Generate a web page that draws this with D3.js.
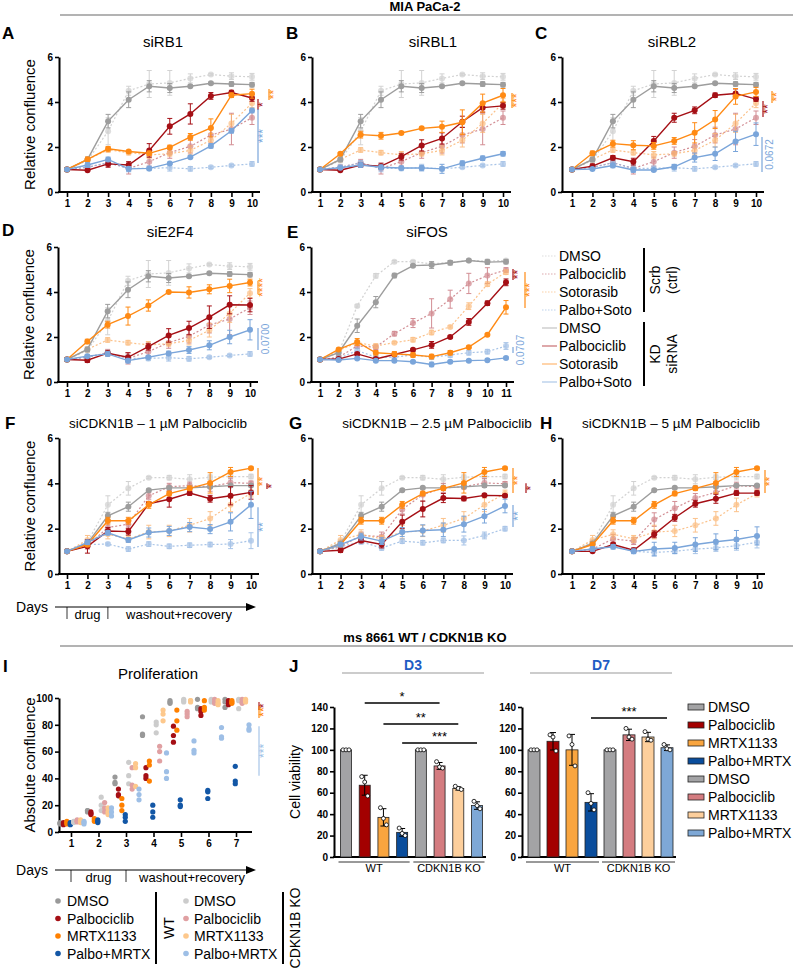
<!DOCTYPE html>
<html>
<head>
<meta charset="utf-8">
<script src="https://cdn.jsdelivr.net/npm/d3@7"></script>
<style>
  body { margin: 0; background: #fff; }
  svg text { font-family: Arial, "Liberation Sans", Helvetica, sans-serif; }
  .tick text { font-weight: bold; font-size: 10px; }
</style>
</head>
<body>
<div id="chart"></div>
<script>
// ---------- data: MIA PaCa-2 relative confluence ----------
const days10 = d3.range(1, 11);
const days11 = d3.range(1, 12);

// shared controls A-D
const scrbDmsoAD = [1.0, 1.4, 2.7, 4.5, 4.8, 4.85, 5.05, 5.22, 5.15, 5.12];
const scrbDmsoADErr = [0.05, 0.1, 0.6, 0.2, 0.6, 0.55, 0.2, 0.05, 0.15, 0.15];
const scrbPalboAD = [1.0, 1.1, 1.3, 1.05, 1.35, 1.75, 2.03, 2.53, 2.8, 3.3];
const scrbPalboADErr = [0.05, 0.1, 0.15, 0.25, 0.2, 0.25, 0.3, 0.35, 0.7, 0.3];
const scrbSotoAD = [1.0, 1.45, 1.87, 1.75, 1.65, 1.7, 1.85, 2.3, 3.05, 3.95];
const scrbSotoADErr = [0.05, 0.1, 0.1, 0.1, 0.15, 0.1, 0.2, 0.3, 0.4, 0.2];
const scrbComboAD = [1.0, 1.1, 1.3, 1.05, 1.05, 1.08, 1.03, 1.1, 1.18, 1.25];
const scrbComboADErr = [0.05, 0.1, 0.1, 0.15, 0.1, 0.15, 0.1, 0.05, 0.05, 0.1];
const kdDmsoAD = [1.0, 1.45, 3.15, 4.1, 4.7, 4.62, 4.7, 4.83, 4.8, 4.77];
const kdDmsoADErr = [0.05, 0.1, 0.3, 0.35, 0.25, 0.2, 0.05, 0.05, 0.1, 0.1];

// A siRB1
const rb1Palbo = [1.0, 0.97, 1.25, 1.2, 1.85, 2.92, 3.47, 4.27, 4.42, 4.18];
const rb1PalboErr = [0.05, 0.05, 0.15, 0.15, 0.3, 0.35, 0.45, 0.15, 0.1, 0.15];
const rb1Soto = [1.0, 1.45, 1.92, 1.8, 1.72, 1.98, 2.45, 2.85, 4.3, 4.37];
const rb1SotoErr = [0.05, 0.1, 0.1, 0.05, 0.1, 0.1, 0.15, 0.4, 0.1, 0.2];
const rb1Combo = [1.0, 1.2, 1.45, 1.03, 1.05, 1.27, 1.55, 2.05, 2.72, 3.62];
const rb1ComboErr = [0.05, 0.1, 0.1, 0.1, 0.05, 0.05, 0.05, 0.1, 0.1, 0.1];
// B siRBL1
const rbl1Palbo = [1.0, 0.97, 1.2, 1.15, 1.57, 2.07, 2.38, 3.12, 3.75, 3.83];
const rbl1PalboErr = [0.05, 0.05, 0.1, 0.1, 0.15, 0.25, 0.25, 0.25, 0.2, 0.15];
const rbl1Soto = [1.0, 1.7, 2.55, 2.5, 2.62, 2.83, 2.9, 3.1, 3.95, 4.3];
const rbl1SotoErr = [0.05, 0.05, 0.15, 0.15, 0.05, 0.05, 0.25, 0.55, 0.4, 0.3];
const rbl1Combo = [1.0, 1.08, 1.2, 1.1, 1.07, 1.07, 1.03, 1.28, 1.5, 1.7];
const rbl1ComboErr = [0.05, 0.05, 0.1, 0.1, 0.05, 0.1, 0.2, 0.1, 0.1, 0.1];
// C siRBL2
const rbl2Palbo = [1.0, 1.15, 1.52, 1.35, 2.27, 3.3, 3.63, 4.3, 4.38, 4.13];
const rbl2PalboErr = [0.05, 0.1, 0.1, 0.15, 0.2, 0.2, 0.15, 0.1, 0.2, 0.1];
const rbl2Soto = [1.0, 1.72, 2.15, 2.08, 2.05, 2.27, 2.63, 3.22, 4.25, 4.45];
const rbl2SotoErr = [0.05, 0.1, 0.15, 0.2, 0.15, 0.15, 0.45, 0.4, 0.35, 0.2];
const rbl2Combo = [1.0, 1.02, 1.18, 0.98, 0.98, 1.12, 1.53, 1.7, 2.25, 2.57];
const rbl2ComboErr = [0.05, 0.05, 0.1, 0.1, 0.05, 0.1, 0.2, 0.3, 0.45, 0.5];
// D siE2F4
const e2f4Palbo = [1.0, 0.97, 1.28, 1.1, 1.57, 2.07, 2.4, 2.88, 3.43, 3.42];
const e2f4PalboErr = [0.05, 0.1, 0.1, 0.2, 0.15, 0.3, 0.3, 0.5, 0.4, 0.3];
const e2f4Soto = [1.0, 1.8, 2.55, 2.93, 3.4, 4.0, 3.98, 4.12, 4.27, 4.42];
const e2f4SotoErr = [0.05, 0.1, 0.15, 0.4, 0.25, 0.05, 0.25, 0.2, 0.3, 0.15];
const e2f4Combo = [1.0, 1.15, 1.25, 0.95, 1.1, 1.27, 1.42, 1.63, 2.0, 2.32];
const e2f4ComboErr = [0.05, 0.05, 0.1, 0.1, 0.05, 0.1, 0.15, 0.2, 0.3, 0.45];
// E siFOS (11 days)
const fosScrbDmso = [1.0, 1.3, 3.38, 4.72, 5.35, 5.35, 5.25, 5.32, 5.4, 5.38, 5.4];
const fosScrbDmsoErr = [0.05, 0.05, 0.05, 0.1, 0.05, 0.05, 0.05, 0.05, 0.05, 0.05, 0.05];
const fosKdDmso = [1.0, 1.3, 2.5, 3.55, 4.73, 5.17, 5.2, 5.3, 5.4, 5.33, 5.35];
const fosKdDmsoErr = [0.05, 0.1, 0.3, 0.25, 0.1, 0.05, 0.15, 0.1, 0.05, 0.1, 0.1];
const fosScrbPalbo = [1.0, 1.1, 1.6, 1.55, 2.15, 2.62, 3.05, 3.68, 4.38, 4.73, 4.98];
const fosScrbPalboErr = [0.05, 0.05, 0.1, 0.1, 0.1, 0.2, 0.65, 0.4, 0.45, 0.35, 0.1];
const fosKdPalbo = [1.0, 1.02, 1.25, 1.02, 1.22, 1.43, 1.65, 2.0, 2.67, 3.5, 4.43];
const fosKdPalboErr = [0.05, 0.05, 0.05, 0.05, 0.05, 0.05, 0.15, 0.05, 0.15, 0.1, 0.15];
const fosScrbSoto = [1.0, 1.4, 1.75, 1.6, 1.75, 1.88, 2.2, 2.45, 3.37, 4.35, 4.88];
const fosScrbSotoErr = [0.05, 0.05, 0.1, 0.1, 0.05, 0.1, 0.1, 0.05, 0.15, 0.1, 0.1];
const fosKdSoto = [1.0, 1.45, 1.78, 1.3, 1.25, 1.2, 1.13, 1.3, 1.55, 2.1, 3.32];
const fosKdSotoErr = [0.05, 0.05, 0.15, 0.1, 0.1, 0.1, 0.1, 0.1, 0.05, 0.05, 0.3];
const fosScrbCombo = [1.0, 1.05, 1.4, 1.1, 1.1, 1.2, 1.1, 1.2, 1.3, 1.35, 1.6];
const fosScrbComboErr = [0.05, 0.05, 0.1, 0.1, 0.05, 0.05, 0.1, 0.1, 0.1, 0.1, 0.15];
const fosKdCombo = [1.0, 0.98, 1.05, 0.95, 0.95, 0.9, 0.78, 0.9, 0.95, 0.97, 1.07];
const fosKdComboErr = [0.05, 0.05, 0.05, 0.05, 0.05, 0.05, 0.1, 0.05, 0.05, 0.05, 0.05];

// shared controls F-H (siCDKN1B)
const scrbDmsoFH = [1.0, 1.4, 3.05, 3.78, 4.25, 4.25, 4.18, 4.27, 4.3, 4.3];
const scrbDmsoFHErr = [0.05, 0.1, 0.4, 0.3, 0.05, 0.1, 0.2, 0.1, 0.15, 0.1];
const kdDmsoFH = [1.0, 1.35, 2.57, 2.97, 3.7, 3.8, 3.8, 3.85, 3.9, 3.9];
const kdDmsoFHErr = [0.05, 0.05, 0.15, 0.2, 0.05, 0.05, 0.05, 0.05, 0.05, 0.05];
const scrbSotoFH = [1.0, 1.5, 1.75, 1.55, 1.85, 1.9, 2.15, 2.45, 3.05, 3.55];
const scrbSotoFHErr = [0.05, 0.2, 0.2, 0.15, 0.3, 0.25, 0.3, 0.3, 0.3, 0.15];
const kdSotoFH = [1.0, 1.3, 2.35, 2.35, 3.05, 3.55, 3.78, 4.02, 4.5, 4.67];
const kdSotoFHErr = [0.05, 0.1, 0.15, 0.15, 0.15, 0.1, 0.1, 0.45, 0.2, 0.05];
// F 1 uM
const p1ScrbPalbo = [1.0, 1.25, 2.05, 2.2, 3.45, 3.85, 3.9, 3.85, 4.03, 4.0];
const p1ScrbPalboErr = [0.05, 0.15, 0.2, 0.2, 0.15, 0.15, 0.15, 0.2, 0.2, 0.1];
const p1KdPalbo = [1.0, 1.22, 1.9, 1.87, 3.1, 3.3, 3.57, 3.32, 3.45, 3.6];
const p1KdPalboErr = [0.05, 0.3, 0.15, 0.15, 0.1, 0.35, 0.1, 0.15, 0.4, 0.3];
const p1ScrbCombo = [1.0, 1.3, 1.32, 1.1, 1.32, 1.22, 1.27, 1.3, 1.32, 1.47];
const p1ScrbComboErr = [0.05, 0.1, 0.05, 0.1, 0.1, 0.1, 0.1, 0.1, 0.2, 0.35];
const p1KdCombo = [1.0, 1.4, 1.82, 1.5, 1.83, 1.9, 2.07, 1.98, 2.3, 3.05];
const p1KdComboErr = [0.05, 0.1, 0.1, 0.1, 0.2, 0.2, 0.2, 0.2, 0.4, 0.6];
// G 2.5 uM
const p25ScrbPalbo = [1.0, 1.2, 1.7, 1.65, 2.85, 3.5, 3.8, 3.85, 4.02, 3.98];
const p25ScrbPalboErr = [0.05, 0.1, 0.15, 0.2, 0.2, 0.3, 0.2, 0.1, 0.2, 0.1];
const p25KdPalbo = [1.0, 1.05, 1.48, 1.3, 2.3, 2.87, 3.35, 3.33, 3.47, 3.45];
const p25KdPalboErr = [0.05, 0.1, 0.1, 0.15, 0.3, 0.35, 0.2, 0.1, 0.05, 0.05];
const p25ScrbCombo = [1.0, 1.2, 1.42, 1.15, 1.45, 1.38, 1.48, 1.48, 1.7, 2.0];
const p25ScrbComboErr = [0.05, 0.1, 0.1, 0.1, 0.1, 0.1, 0.1, 0.2, 0.15, 0.1];
const p25KdCombo = [1.0, 1.3, 1.65, 1.45, 1.85, 1.92, 1.95, 2.2, 2.55, 3.0];
const p25KdComboErr = [0.05, 0.1, 0.15, 0.15, 0.2, 0.25, 0.3, 0.35, 0.3, 0.3];
// H 5 uM
const p5ScrbPalbo = [1.0, 1.1, 1.55, 1.45, 2.4, 2.9, 3.35, 3.6, 3.9, 3.85];
const p5ScrbPalboErr = [0.05, 0.1, 0.2, 0.15, 0.3, 0.3, 0.2, 0.3, 0.15, 0.1];
const p5KdPalbo = [1.0, 1.0, 1.3, 1.05, 1.75, 2.48, 3.1, 3.32, 3.57, 3.57];
const p5KdPalboErr = [0.05, 0.05, 0.1, 0.1, 0.15, 0.15, 0.15, 0.2, 0.1, 0.1];
const p5ScrbCombo = [1.0, 1.1, 1.25, 1.0, 0.95, 1.0, 1.1, 1.15, 1.25, 1.4];
const p5ScrbComboErr = [0.05, 0.1, 0.1, 0.1, 0.15, 0.1, 0.2, 0.15, 0.2, 0.25];
const p5KdCombo = [1.0, 1.1, 1.2, 1.0, 1.1, 1.15, 1.3, 1.42, 1.52, 1.68];
const p5KdComboErr = [0.05, 0.1, 0.1, 0.1, 0.3, 0.25, 0.3, 0.35, 0.4, 0.4];

// ---------- data: ms 8661 proliferation (replicates per day 1-7) ----------
const iDays = d3.range(1, 8);
const iWtDmso   = [[6.5,6,7],[16,15,16],[41,37,36],[86,73,72],[98,97,96],[99,93,92],[99,97,93]];
const iWtPalbo  = [[6,7,5.5],[15,14,13],[32,28,27],[48,42,40],[79,72,67],[92,90,87],[98,96,95]];
const iWtMrtx   = [[7,6,8],[9,8,10],[25,20,16],[53,50,38],[91,83,76],[98,93,91],[98,97,96]];
const iWtCombo  = [[6,5.5,7],[7,8,9],[13,11,8],[20,15,11],[24,20,19],[31,30,25],[49,38,36]];
const iKoDmso   = [[7,8,7.5],[26,20,16],[52,42,36],[82,80,74],[99,98,97],[99,98,97],[99,98,92]];
const iKoPalbo  = [[8,9,7.5],[22,18,15],[48,35,32],[64,60,53],[90,88,86],[99,97,96],[99,97,96]];
const iKoMrtx   = [[8,9,7],[18,15,13],[51,48,34],[91,88,83],[98,97,98],[98,96,95],[99,98,97]];
const iKoCombo  = [[7,8,6],[18,15,12],[32,28,24],[59,45,40],[68,61,59],[78,71,70],[80,77,76]];

// ---------- data: cell viability ----------
const jConds = ['wtDmso','wtPalbo','wtMrtx','wtCombo','koDmso','koPalbo','koMrtx','koCombo'];
const jBarsD3 = [100, 67, 37, 23, 100, 85, 64, 48];
const jRepsD3 = [[100,100,100],[75,70,57],[46,36,30],[27,22,20],[100,100,100],[89,84,83],[66,64,63],[52,48,45]];
const jBarsD7 = [100, 108, 100, 51, 100, 114, 112, 102];
const jRepsD7 = [[100,100,100],[114,112,99],[113,105,85],[60,50,44],[100,100,100],[120,112,110],[117,110,109],[105,101,100]];
const jTicks = [0, 20, 40, 60, 80, 100, 120, 140];

// ---------- colours ----------
const col = {
  kdDmso: '#9d9d9d', kdPalbo: '#a50f15', kdSoto: '#ff8a14', kdCombo: '#7aa5da',
  scDmso: '#c8c8c8', scPalbo: '#c8727a', scSoto: '#fbb36e', scCombo: '#93b6e2'
};
const iColors = ['#999999', '#a50f15', '#ff8000', '#1357a6', '#cccccc', '#e0a0a2', '#fdc88c', '#9ebfe6'];
const jColors = ['#a3a3a5', '#a30000', '#f9a53f', '#0a4d9c', '#a3a3a5', '#d47c80', '#fdcf9c', '#7ea8d6'];

const svg = d3.select('#chart').append('svg')
  .attr('width', 793).attr('height', 970);

// section headers
function sectionHeader(txt, y) {
  svg.append('line').attr('x1', 60).attr('x2', 793).attr('y1', y).attr('y2', y)
    .attr('stroke', '#9a9a9a').attr('stroke-width', 1.3);
  svg.append('text').attr('x', 425).attr('y', y - 4).attr('text-anchor', 'middle')
    .attr('font-size', 13).attr('font-weight', 'bold').text(txt);
}
sectionHeader('MIA PaCa-2', 15);
sectionHeader('ms 8661 WT / CDKN1B KO', 646);

function panelLabel(t, x, y) {
  svg.append('text').attr('x', x).attr('y', y).attr('font-size', 17)
    .attr('font-weight', 'bold').text(t);
}

function series(vals, err, key, dotted) { return {vals, err, key, dotted}; }

function linePanel(cfg) {
  const g = svg.append('g');
  const x = d3.scaleLinear().domain([1, cfg.n]).range([cfg.x1, cfg.xN]);
  const y = d3.scaleLinear().domain([0, 6]).range([cfg.yBot, cfg.yTop]);

  const xa = g.append('g').attr('transform', `translate(0,${cfg.yBot})`)
    .call(d3.axisBottom(x).tickValues(d3.range(1, cfg.n + 1)).tickSize(5).tickSizeOuter(0).tickPadding(3).tickFormat(d3.format('d')));
  xa.select('.domain').remove();
  xa.selectAll('.tick line').attr('stroke-width', 1.6);
  g.append('line').attr('x1', cfg.axisX - 1).attr('x2', cfg.xN + 8)
    .attr('y1', cfg.yBot).attr('y2', cfg.yBot).attr('stroke', '#000').attr('stroke-width', 2);

  const ya = g.append('g').attr('transform', `translate(${cfg.axisX},0)`)
    .call(d3.axisLeft(y).tickValues([0, 2, 4, 6]).tickSize(4).tickSizeOuter(0).tickPadding(2).tickFormat(d3.format('d')));
  ya.select('.domain').attr('stroke-width', 2);
  ya.selectAll('.tick line').attr('stroke-width', 1.6);

  const line = d3.line().x((d, i) => x(i + 1)).y(d => y(d));
  const ordered = cfg.series.filter(s => s.dotted).concat(cfg.series.filter(s => !s.dotted));
  ordered.forEach(s => {
    const c = col[s.key];
    const sg = g.append('g').attr('opacity', s.dotted ? 0.8 : 1);
    sg.append('path').datum(s.vals).attr('d', line).attr('fill', 'none')
      .attr('stroke', c).attr('stroke-width', s.dotted ? 1.2 : 1.4)
      .attr('stroke-dasharray', s.dotted ? '2,2' : null);
    const pts = s.vals.map((v, i) => ({day: i + 1, v, e: s.err ? s.err[i] : 0}));
    sg.selectAll('.eb').data(pts).join('path').attr('class', 'eb')
      .attr('d', d => {
        const cx = x(d.day), y0 = y(d.v - d.e), y1 = y(d.v + d.e);
        return `M${cx},${y0}V${y1}M${cx - 2.5},${y0}H${cx + 2.5}M${cx - 2.5},${y1}H${cx + 2.5}`;
      })
      .attr('stroke', c).attr('stroke-width', 1).attr('fill', 'none');
    sg.selectAll('circle').data(pts).join('circle')
      .attr('cx', d => x(d.day)).attr('cy', d => y(d.v))
      .attr('r', 3).attr('fill', c).attr('opacity', s.dotted ? 0.75 : 1);
  });

  // significance annotations
  (cfg.stats || []).forEach(st => {
    const lx = cfg.xN + st.dx;
    const c = col[st.key];
    g.append('line').attr('x1', lx).attr('x2', lx).attr('y1', y(st.v0)).attr('y2', y(st.v1))
      .attr('stroke', c).attr('stroke-width', 1.2);
    const my = (y(st.v0) + y(st.v1)) / 2;
    const isP = /\d/.test(st.text);
    g.append('text').attr('transform', `translate(${lx + (isP ? 11 : 9)},${my}) rotate(-90)`)
      .attr('text-anchor', 'middle').attr('font-size', isP ? 10 : 12)
      .attr('fill', c).text(st.text);
  });

  g.append('text').attr('x', cfg.titleX).attr('y', cfg.yTop - 10).attr('text-anchor', 'middle')
    .attr('font-size', cfg.titleSize || 15).text(cfg.title);
  if (cfg.ylabel) {
    g.append('text').attr('transform', `translate(${cfg.axisX - 24},${(cfg.yTop + cfg.yBot) / 2}) rotate(-90)`)
      .attr('text-anchor', 'middle').attr('font-size', 15).text('Relative confluence');
  }
  return x;
}

const seriesAD = (p, pe, s, se, c, ce) => [
  series(scrbDmsoAD, scrbDmsoADErr, 'scDmso', true),
  series(scrbPalboAD, scrbPalboADErr, 'scPalbo', true),
  series(scrbSotoAD, scrbSotoADErr, 'scSoto', true),
  series(scrbComboAD, scrbComboADErr, 'scCombo', true),
  series(kdDmsoAD, kdDmsoADErr, 'kdDmso', false),
  series(p, pe, 'kdPalbo', false),
  series(s, se, 'kdSoto', false),
  series(c, ce, 'kdCombo', false)
];
const seriesFH = (sp, spe, kp, kpe, sc, sce, kc, kce) => [
  series(scrbDmsoFH, scrbDmsoFHErr, 'scDmso', true),
  series(sp, spe, 'scPalbo', true),
  series(scrbSotoFH, scrbSotoFHErr, 'scSoto', true),
  series(sc, sce, 'scCombo', true),
  series(kdDmsoFH, kdDmsoFHErr, 'kdDmso', false),
  series(kp, kpe, 'kdPalbo', false),
  series(kdSotoFH, kdSotoFHErr, 'kdSoto', false),
  series(kc, kce, 'kdCombo', false)
];

panelLabel('A', 2, 39);
linePanel({title: 'siRB1', titleX: 163, axisX: 59, x1: 67, xN: 252, yTop: 57, yBot: 192, n: 10, ylabel: true,
  series: seriesAD(rb1Palbo, rb1PalboErr, rb1Soto, rb1SotoErr, rb1Combo, rb1ComboErr),
  stats: [{key: 'kdSoto', dx: 17, v0: 4.58, v1: 4.09, text: '**'},
          {key: 'kdPalbo', dx: 6, v0: 4.13, v1: 3.64, text: '*'},
          {key: 'kdCombo', dx: 6, v0: 3.69, v1: 1.29, text: '***'}]});
panelLabel('B', 286, 39);
linePanel({title: 'siRBL1', titleX: 433, axisX: 312, x1: 320, xN: 503, yTop: 57, yBot: 192, n: 10,
  series: seriesAD(rbl1Palbo, rbl1PalboErr, rbl1Soto, rbl1SotoErr, rbl1Combo, rbl1ComboErr),
  stats: [{key: 'kdSoto', dx: 9, v0: 4.4, v1: 3.73, text: '***'}]});
panelLabel('C', 535, 39);
linePanel({title: 'siRBL2', titleX: 672, axisX: 562, x1: 572, xN: 756, yTop: 57, yBot: 192, n: 10,
  series: seriesAD(rbl2Palbo, rbl2PalboErr, rbl2Soto, rbl2SotoErr, rbl2Combo, rbl2ComboErr),
  stats: [{key: 'kdSoto', dx: 16, v0: 4.49, v1: 3.96, text: '**'},
          {key: 'kdPalbo', dx: 7, v0: 4.04, v1: 3.33, text: '**'},
          {key: 'kdCombo', dx: 6, v0: 2.44, v1: 0.89, text: '0.0672'}]});
panelLabel('D', 2, 236);
linePanel({title: 'siE2F4', titleX: 170, axisX: 58, x1: 67, xN: 250, yTop: 247, yBot: 382, n: 10, ylabel: true,
  series: seriesAD(e2f4Palbo, e2f4PalboErr, e2f4Soto, e2f4SotoErr, e2f4Combo, e2f4ComboErr),
  stats: [{key: 'kdSoto', dx: 8, v0: 4.49, v1: 3.91, text: '****'},
          {key: 'kdCombo', dx: 8, v0: 2.4, v1: 1.42, text: '0.0700'}]});
panelLabel('E', 287, 238);
linePanel({title: 'siFOS', titleX: 427, axisX: 311, x1: 320, xN: 506, yTop: 247, yBot: 382, n: 11,
  series: [
    series(fosScrbDmso, fosScrbDmsoErr, 'scDmso', true),
    series(fosScrbPalbo, fosScrbPalboErr, 'scPalbo', true),
    series(fosScrbSoto, fosScrbSotoErr, 'scSoto', true),
    series(fosScrbCombo, fosScrbComboErr, 'scCombo', true),
    series(fosKdDmso, fosKdDmsoErr, 'kdDmso', false),
    series(fosKdPalbo, fosKdPalboErr, 'kdPalbo', false),
    series(fosKdSoto, fosKdSotoErr, 'kdSoto', false),
    series(fosKdCombo, fosKdComboErr, 'kdCombo', false)],
  stats: [{key: 'kdPalbo', dx: 7, v0: 5.02, v1: 4.53, text: '**'},
          {key: 'kdSoto', dx: 19, v0: 4.89, v1: 3.29, text: '***'},
          {key: 'kdCombo', dx: 7, v0: 1.56, v1: 1.29, text: '0.0707'}]});

panelLabel('F', 5, 429);
const xF = linePanel({title: 'siCDKN1B – 1 µM Palbociclib', titleX: 158, titleSize: 13.5, axisX: 59, x1: 67, xN: 251, yTop: 438, yBot: 574, n: 10, ylabel: true,
  series: seriesFH(p1ScrbPalbo, p1ScrbPalboErr, p1KdPalbo, p1KdPalboErr, p1ScrbCombo, p1ScrbComboErr, p1KdCombo, p1KdComboErr),
  stats: [{key: 'kdSoto', dx: 7, v0: 4.68, v1: 3.48, text: '**'},
          {key: 'kdPalbo', dx: 16, v0: 4.0, v1: 3.75, text: '*'},
          {key: 'kdCombo', dx: 7, v0: 2.95, v1: 1.19, text: '**'}]});
panelLabel('G', 289, 429);
linePanel({title: 'siCDKN1B – 2.5 µM Palbociclib', titleX: 437, titleSize: 13.5, axisX: 312, x1: 320, xN: 505, yTop: 438, yBot: 574, n: 10,
  series: seriesFH(p25ScrbPalbo, p25ScrbPalboErr, p25KdPalbo, p25KdPalboErr, p25ScrbCombo, p25ScrbComboErr, p25KdCombo, p25KdComboErr),
  stats: [{key: 'kdSoto', dx: 8, v0: 4.68, v1: 3.57, text: '**'},
          {key: 'kdPalbo', dx: 21, v0: 4.0, v1: 3.57, text: '*'},
          {key: 'kdCombo', dx: 8, v0: 3.04, v1: 2.07, text: '**'}]});
panelLabel('H', 540, 429);
linePanel({title: 'siCDKN1B – 5 µM Palbociclib', titleX: 671, titleSize: 13.5, axisX: 562, x1: 572, xN: 757, yTop: 438, yBot: 574, n: 10,
  series: seriesFH(p5ScrbPalbo, p5ScrbPalboErr, p5KdPalbo, p5KdPalboErr, p5ScrbCombo, p5ScrbComboErr, p5KdCombo, p5KdComboErr),
  stats: [{key: 'kdSoto', dx: 8, v0: 4.59, v1: 3.57, text: '**'}]});

// legend for A-H
const legItems = [
  ['DMSO', 'scDmso', true], ['Palbociclib', 'scPalbo', true], ['Sotorasib', 'scSoto', true], ['Palbo+Soto', 'scCombo', true],
  ['DMSO', 'kdDmso', false], ['Palbociclib', 'kdPalbo', false], ['Sotorasib', 'kdSoto', false], ['Palbo+Soto', 'kdCombo', false]
];
const leg = svg.append('g');
legItems.forEach((d, i) => {
  const yy = 256 + i * 18;
  leg.append('line').attr('x1', 542).attr('x2', 557).attr('y1', yy).attr('y2', yy)
    .attr('stroke', col[d[1]]).attr('stroke-width', 1.2).attr('opacity', 0.6)
    .attr('stroke-dasharray', d[2] ? '1.5,1.5' : null);
  leg.append('text').attr('x', 559).attr('y', yy + 5).attr('font-size', 14).text(d[0]);
});
[[248, 312, 280, 'Scrb', '(ctrl)'], [322, 386, 354, 'KD', 'siRNA']].forEach(b => {
  leg.append('line').attr('x1', 644).attr('x2', 644).attr('y1', b[0]).attr('y2', b[1])
    .attr('stroke', '#000').attr('stroke-width', 2);
  leg.append('text').attr('transform', `translate(660,${b[2]}) rotate(-90)`).attr('text-anchor', 'middle')
    .attr('font-size', 14).text(b[3]);
  leg.append('text').attr('transform', `translate(677,${b[2]}) rotate(-90)`).attr('text-anchor', 'middle')
    .attr('font-size', 14).text(b[4]);
});

// Days arrows
function daysArrow(yy, xDay1, xDay3, washX) {
  const g = svg.append('g');
  g.append('text').attr('x', 48).attr('y', yy + 5).attr('text-anchor', 'end').attr('font-size', 14).text('Days');
  g.append('line').attr('x1', 55).attr('x2', 250).attr('y1', yy).attr('y2', yy).attr('stroke', '#000').attr('stroke-width', 1);
  g.append('path').attr('d', `M256,${yy}L246,${yy - 4}L246,${yy + 4}Z`).attr('fill', '#000');
  [xDay1, xDay3].forEach(xx => g.append('line').attr('x1', xx).attr('x2', xx).attr('y1', yy).attr('y2', yy + 12)
    .attr('stroke', '#000').attr('stroke-width', 0.8));
  g.append('text').attr('x', (xDay1 + xDay3) / 2).attr('y', yy + 12).attr('text-anchor', 'middle').attr('font-size', 13).text('drug');
  g.append('text').attr('x', washX).attr('y', yy + 12).attr('text-anchor', 'middle').attr('font-size', 13).text('washout+recovery');
}
daysArrow(607, xF(1), xF(3), 179);

// ---------- panel I ----------
panelLabel('I', 3, 672);
const xI = d3.scaleLinear().domain([1, 7]).range([71, 236]);
const yI = d3.scaleLinear().domain([0, 100]).range([832, 698]);
const offI = d3.scalePoint().domain(d3.range(8)).range([-11, 13]);
const gI = svg.append('g');
const xaI = gI.append('g').attr('transform', 'translate(0,832)')
  .call(d3.axisBottom(xI).tickValues(iDays).tickSize(5).tickSizeOuter(0).tickPadding(3).tickFormat(d3.format('d')));
xaI.select('.domain').remove();
xaI.selectAll('.tick line').attr('stroke-width', 1.6);
gI.append('line').attr('x1', 58).attr('x2', 252).attr('y1', 832).attr('y2', 832).attr('stroke', '#000').attr('stroke-width', 2);
const yaI = gI.append('g').attr('transform', 'translate(59,0)')
  .call(d3.axisLeft(yI).tickValues([0, 20, 40, 60, 80, 100]).tickSize(4).tickSizeOuter(0).tickPadding(2));
yaI.select('.domain').attr('stroke-width', 2);
yaI.selectAll('.tick line').attr('stroke-width', 1.6);
gI.append('text').attr('x', 158).attr('y', 679).attr('text-anchor', 'middle').attr('font-size', 15).text('Proliferation');
gI.append('text').attr('transform', 'translate(35,765) rotate(-90)').attr('text-anchor', 'middle')
  .attr('font-size', 15).text('Absolute confluence');
const iSeries = [iWtDmso, iWtPalbo, iWtMrtx, iWtCombo, iKoDmso, iKoPalbo, iKoMrtx, iKoCombo];
iSeries.forEach((s, k) => {
  const pts = [];
  s.forEach((reps, di) => reps.forEach(v => pts.push({day: di + 1, v})));
  gI.append('g').selectAll('circle').data(pts).join('circle')
    .attr('cx', d => xI(d.day) + offI(k)).attr('cy', d => yI(d.v))
    .attr('r', 2.6).attr('fill', iColors[k]);
});
[[iColors[1], 97, 91, '*'], [iColors[2], 94, 85, '**'], [iColors[7], 79, 42, '***']].forEach(st => {
  gI.append('line').attr('x1', 259).attr('x2', 259).attr('y1', yI(st[1])).attr('y2', yI(st[2]))
    .attr('stroke', st[0]).attr('stroke-width', 1.1);
  gI.append('text').attr('transform', `translate(268,${(yI(st[1]) + yI(st[2])) / 2}) rotate(-90)`)
    .attr('text-anchor', 'middle').attr('font-size', 12).attr('fill', st[0]).text(st[3]);
});
daysArrow(870, xI(1), xI(3), 192);

// legend I
const iNames = ['DMSO', 'Palbociclib', 'MRTX1133', 'Palbo+MRTX'];
iNames.forEach((n, i) => {
  const yy = 901 + i * 17.5;
  [[58, 67, 0], [186, 194, 4]].forEach(c => {
    svg.append('circle').attr('cx', c[0]).attr('cy', yy).attr('r', 2.8).attr('fill', iColors[i + c[2]]);
    svg.append('text').attr('x', c[1]).attr('y', yy + 5).attr('font-size', 14).text(n);
  });
});
[[156, 174, 'WT'], [283, 300, 'CDKN1B KO']].forEach(b => {
  svg.append('line').attr('x1', b[0]).attr('x2', b[0]).attr('y1', 892).attr('y2', 964)
    .attr('stroke', '#000').attr('stroke-width', 2);
  svg.append('text').attr('transform', `translate(${b[1]},928) rotate(-90)`).attr('text-anchor', 'middle')
    .attr('font-size', 14).text(b[2]);
});

// ---------- panel J ----------
panelLabel('J', 289, 672);
function barPanel(cfg) {
  const g = svg.append('g');
  const x = d3.scalePoint().domain(jConds).range([cfg.c0, cfg.c1]);
  const y = d3.scaleLinear().domain([0, 140]).range([857, 707]);
  const bw = cfg.bw;
  g.append('text').attr('x', (cfg.lx0 + cfg.lx1) / 2).attr('y', 670).attr('text-anchor', 'middle')
    .attr('font-size', 14).attr('font-weight', 'bold').attr('fill', '#1f5cc4').text(cfg.day);
  g.append('line').attr('x1', cfg.lx0).attr('x2', cfg.lx1).attr('y1', 673).attr('y2', 673)
    .attr('stroke', '#9a9a9a').attr('stroke-width', 1.2);
  const ya = g.append('g').attr('transform', `translate(${cfg.axisX},0)`)
    .call(d3.axisLeft(y).tickValues(jTicks).tickSize(4).tickSizeOuter(0).tickPadding(2));
  ya.select('.domain').attr('stroke-width', 2);
  ya.selectAll('.tick line').attr('stroke-width', 1.6);
  g.append('line').attr('x1', cfg.axisX - 1).attr('x2', cfg.c1 + 9).attr('y1', 857).attr('y2', 857)
    .attr('stroke', '#000').attr('stroke-width', 2);
  g.selectAll('.bar').data(cfg.bars).join('rect').attr('class', 'bar')
    .attr('x', (d, i) => x(jConds[i]) - bw / 2).attr('width', bw)
    .attr('y', d => y(d)).attr('height', d => y(0) - y(d))
    .attr('fill', (d, i) => jColors[i]).attr('stroke', '#222').attr('stroke-width', 0.8);
  cfg.reps.forEach((r, i) => {
    const cx = x(jConds[i]);
    const sd = d3.deviation(r);
    const m = cfg.bars[i];
    if (sd > 0.5) {
      g.append('path').attr('d', `M${cx},${y(m - sd)}V${y(m + sd)}M${cx - 3},${y(m + sd)}H${cx + 3}M${cx - 3},${y(m - sd)}H${cx + 3}`)
        .attr('stroke', '#000').attr('stroke-width', 1).attr('fill', 'none');
    }
    r.forEach((v, k) => {
      g.append('circle').attr('cx', cx + (k - 1) * 3).attr('cy', y(v)).attr('r', 2)
        .attr('fill', '#fff').attr('stroke', '#000').attr('stroke-width', 0.8);
    });
  });
  (cfg.sig || []).forEach(s => {
    const xa0 = x(jConds[s[0]]), xa1 = x(jConds[s[1]]);
    g.append('line').attr('x1', xa0).attr('x2', xa1).attr('y1', s[2]).attr('y2', s[2])
      .attr('stroke', '#000').attr('stroke-width', 1.3);
    g.append('text').attr('x', (xa0 + xa1) / 2).attr('y', s[2] - 2).attr('text-anchor', 'middle')
      .attr('font-size', 13).text(s[3]);
  });
  // group labels
  [[0, 3, 'WT'], [4, 7, 'CDKN1B KO']].forEach(gr => {
    const a = x(jConds[gr[0]]) - bw / 2 - 2, b = x(jConds[gr[1]]) + bw / 2 + 2;
    g.append('line').attr('x1', a).attr('x2', b).attr('y1', 862).attr('y2', 862).attr('stroke', '#000').attr('stroke-width', 0.8);
    g.append('text').attr('x', (a + b) / 2).attr('y', 872).attr('text-anchor', 'middle').attr('font-size', 11).text(gr[2]);
  });
  if (cfg.ylabel) {
    g.append('text').attr('transform', `translate(${cfg.axisX - 34},782) rotate(-90)`).attr('text-anchor', 'middle')
      .attr('font-size', 14).text('Cell viability');
  }
}
barPanel({day: 'D3', axisX: 334, c0: 346, c1: 477, bw: 11, lx0: 342, lx1: 484, ylabel: true,
  bars: jBarsD3, reps: jRepsD3,
  sig: [[1, 5, 703, '*'], [2, 6, 724, '**'], [3, 7, 743, '***']]});
barPanel({day: 'D7', axisX: 522, c0: 534, c1: 667, bw: 12, lx0: 530, lx1: 672,
  bars: jBarsD7, reps: jRepsD7,
  sig: [[3, 7, 718, '***']]});

// legend J
const jNames = ['DMSO', 'Palbociclib', 'MRTX1133', 'Palbo+MRTX', 'DMSO', 'Palbociclib', 'MRTX1133', 'Palbo+MRTX'];
jNames.forEach((n, i) => {
  const yy = 707 + i * 18;
  svg.append('rect').attr('x', 688).attr('y', yy - 3).attr('width', 16).attr('height', 6)
    .attr('fill', jColors[i]).attr('stroke', '#222').attr('stroke-width', 0.8);
  svg.append('text').attr('x', 708).attr('y', yy + 5).attr('font-size', 14).text(n);
});
</script>
</body>
</html>
